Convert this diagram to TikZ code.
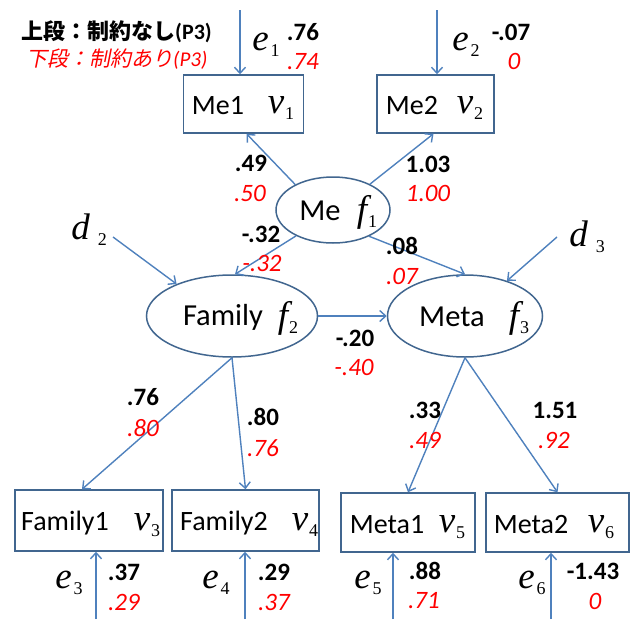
\documentclass[tikz,border=0pt]{standalone}
\usepackage{fontspec}
\setmainfont{Carlito}
\newfontfamily\jp{Noto Sans CJK JP}
\newfontfamily\jpsl{Noto Sans CJK JP}[FakeSlant=0.2]
\newfontfamily\tms{Liberation Serif}
\usetikzlibrary{shapes.geometric,arrows.meta,calc}
\definecolor{bord}{HTML}{41668F}
\definecolor{arrc}{HTML}{4F81BD}
\definecolor{rd}{HTML}{FF0000}
\newcommand{\mvar}[3]{{\tms\fontsize{37}{37}\selectfont\itshape #1}\kern#3\raisebox{-6pt}{\tms\fontsize{18}{18}\selectfont #2}}
\tikzset{
  arr/.style={draw=arrc, line width=1.4pt, -{Straight Barb[length=6pt,width=11pt]}},
  obs/.style={draw=bord, line width=1.5pt, rectangle, inner sep=0pt},
  lat/.style={draw=bord, line width=1.5pt, ellipse, inner sep=0pt},
  num/.style={font=\fontsize{25}{25}\selectfont\bfseries, inner sep=0pt},
  rnum/.style={font=\fontsize{25}{25}\selectfont\itshape, text=rd, inner sep=0pt},
  btxt/.style={font=\fontsize{28}{28}\selectfont, inner sep=0pt},
  etxt/.style={font=\fontsize{30.5}{30.5}\selectfont, inner sep=0pt},
  vlab/.style={inner sep=0pt},
}
\begin{document}
\begin{tikzpicture}[x=1pt,y=-1pt]
\useasboundingbox (0,0) rectangle (635,619);
% observed boxes
\node[obs, minimum width=120pt, minimum height=58pt] (me1) at (243.5,104) {};
\node[obs, minimum width=117pt, minimum height=58pt] (me2) at (435.5,104) {};
\node[obs, minimum width=148pt, minimum height=61pt] (fam1) at (89,520.5) {};
\node[obs, minimum width=147pt, minimum height=61pt] (fam2) at (245.5,520.5) {};
\node[obs, minimum width=134pt, minimum height=59pt] (meta1) at (408,522.5) {};
\node[obs, minimum width=143pt, minimum height=59pt] (meta2) at (557.5,522.5) {};
% latent ellipses
\node[lat, minimum width=114pt, minimum height=66pt] (me) at (333,210) {};
\node[lat, minimum width=171pt, minimum height=82pt] (family) at (232,316) {};
\node[lat, minimum width=155pt, minimum height=82pt] (meta) at (465,316) {};
% box texts
\node[btxt] (tme1) at (218,106) {Me1};
\node[vlab] (vv1) at (281,108) {\mvar{v}{1}{1pt}};
\node[btxt] (tme2) at (412,106) {Me2};
\node[vlab] (vv2) at (470,108) {\mvar{v}{2}{1pt}};
\node[btxt] (tfam1) at (65,523) {Family1};
\node[vlab] (vv3) at (147,525) {\mvar{v}{3}{1pt}};
\node[btxt] (tfam2) at (224,523) {Family2};
\node[vlab] (vv4) at (305,525) {\mvar{v}{4}{1pt}};
\node[btxt] (tmeta1) at (387,525) {Meta1};
\node[vlab] (vv5) at (452,527) {\mvar{v}{5}{1pt}};
\node[btxt] (tmeta2) at (531,525) {Meta2};
\node[vlab] (vv6) at (601,527) {\mvar{v}{6}{1pt}};
% ellipse texts
\node[etxt] (tme) at (320,211) {Me};
\node[vlab] (ff1) at (367,212) {\mvar{f}{1}{1pt}};
\node[etxt] (tfamily) at (223,317) {Family};
\node[vlab] (ff2) at (288,318) {\mvar{f}{2}{1pt}};
\node[etxt] (tmeta) at (452,317) {Meta};
\node[vlab] (ff3) at (519,318) {\mvar{f}{3}{1pt}};
% error / disturbance labels
\node[vlab] (le1) at (266,45) {\mvar{e}{1}{2pt}};
\node[vlab] (le2) at (466,45) {\mvar{e}{2}{2pt}};
\node[vlab] (le3) at (69,583) {\mvar{e}{3}{2pt}};
\node[vlab] (le4) at (216,583) {\mvar{e}{4}{2pt}};
\node[vlab] (le5) at (368,583) {\mvar{e}{5}{2pt}};
\node[vlab] (le6) at (532,583) {\mvar{e}{6}{2pt}};
\node[vlab] (ld2) at (89,230) {\mvar{d}{2}{8pt}};
\node[vlab] (ld3) at (587,237) {\mvar{d}{3}{8pt}};
% free ends
\coordinate (ce1) at (240,10);
\coordinate (ce2) at (437,10);
\coordinate (ce3) at (96,619);
\coordinate (ce4) at (245,619);
\coordinate (ce5) at (393,619);
\coordinate (ce6) at (551,619);
\coordinate (cd2) at (113,237);
\coordinate (cd3) at (557,237);
% arrows
\draw[arr] (ce1) -- (ce1 |- me1.north);
\draw[arr] (ce2) -- (ce2 |- me2.north);
\draw[arr] (ce3) -- (ce3 |- fam1.south);
\draw[arr] (ce4) -- (ce4 |- fam2.south);
\draw[arr] (ce5) -- (ce5 |- meta1.south);
\draw[arr] (ce6) -- (ce6 |- meta2.south);
\draw[arr] (cd2) -- (family.150);
\draw[arr] (cd3) -- (meta.40);
\draw[arr] (me.146) -- ($(me1.south)+(3,0)$);
\draw[arr] (me.35) -- ($(me2.south)+(-2,0)$);
\draw[arr] (me.215) -- ($(family.north)+(3,0)$);
\draw[arr] (me.324) -- (meta.north);
\draw[arr] (family.east) -- (meta.west);
\draw[arr] (family.south) -- ($(fam1.north)+(-7,0)$);
\draw[arr] (family.south) -- (fam2.north);
\draw[arr] (meta.south) -- (meta1.north);
\draw[arr] (meta.south) -- (meta2.north);
% legend
\node[inner sep=0pt, anchor=west] (leg1) at (21,32) {\fontsize{22}{22}\selectfont\jp\bfseries 上段：制約なし{\rmfamily(P3)}};
\node[inner sep=0pt, anchor=west, text=rd] (leg2) at (26,59) {\fontsize{21}{21}\selectfont\jpsl 下段：制約あり{\rmfamily\itshape(P3)}};
% coefficients
\node[num] (n1a) at (303,32) {.76};
\node[rnum] (n1b) at (303,62) {.74};
\node[num] (n2a) at (511,32) {-.07};
\node[rnum] (n2b) at (514,61) {0};
\node[num] (n3a) at (251,163) {.49};
\node[rnum] (n3b) at (250,193) {.50};
\node[num] (n4a) at (428,164) {1.03};
\node[rnum] (n4b) at (428,193) {1.00};
\node[num] (n5a) at (261,234) {-.32};
\node[rnum] (n5b) at (262,263) {-.32};
\node[num] (n6a) at (402,246) {.08};
\node[rnum] (n6b) at (402,276) {.07};
\node[num] (n7a) at (355,338) {-.20};
\node[rnum] (n7b) at (354,367) {-.40};
\node[num] (n8a) at (143,397) {.76};
\node[rnum] (n8b) at (143,428) {.80};
\node[num] (n9a) at (263,417) {.80};
\node[rnum] (n9b) at (263,448) {.76};
\node[num] (n10a) at (425,410) {.33};
\node[rnum] (n10b) at (425,440) {.49};
\node[num] (n11a) at (555,410) {1.51};
\node[rnum] (n11b) at (554,440) {.92};
\node[num] (n12a) at (124,572) {.37};
\node[rnum] (n12b) at (124,602) {.29};
\node[num] (n13a) at (274,572) {.29};
\node[rnum] (n13b) at (274,602) {.37};
\node[num] (n14a) at (425,571) {.88};
\node[rnum] (n14b) at (424,601) {.71};
\node[num] (n15a) at (593,571) {-1.43};
\node[rnum] (n15b) at (595,601) {0};
\end{tikzpicture}
\end{document}
